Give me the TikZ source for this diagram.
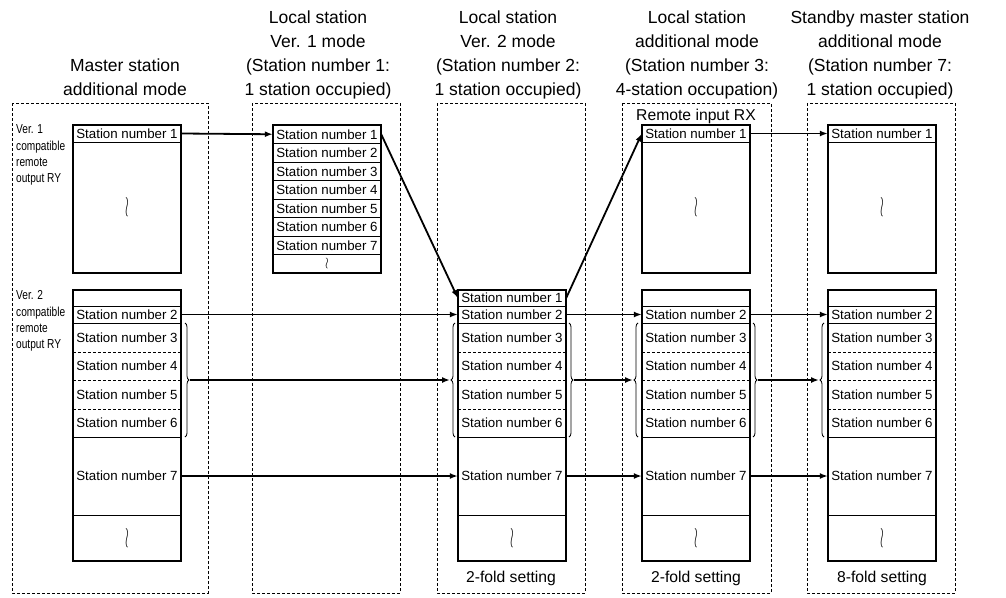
\documentclass[tikz,border=0pt]{standalone}
\usepackage{graphicx}
\usepackage{fontspec}
\setmainfont{Liberation Sans}
\newfontfamily\narrowfont[FakeStretch=0.78]{Liberation Sans}
\usetikzlibrary{arrows.meta,decorations.pathreplacing}

\tikzset{
  frame/.style={draw,dash pattern=on 3pt off 2pt,line width=0.6pt},
  cell/.style={minimum width=108pt,inner sep=0pt,font=\fontsize{13.3}{14}\selectfont},
  sep/.style={line width=0.8pt},
  dsep/.style={line width=0.8pt,dash pattern=on 3pt off 2pt},
  outline/.style={line width=1.5pt},
  link/.style={line width=1.8pt,-{Latex[length=8pt,width=6pt]}},
  brc/.style={line width=0.8pt,decorate,decoration={brace,amplitude=4pt}},
  head/.style={align=center,inner sep=0pt,anchor=north,font=\fontsize{17.5}{24}\selectfont},
  side/.style={align=left,inner sep=0pt,anchor=north west,font=\narrowfont\fontsize{13}{16.3}\selectfont},
  note/.style={inner sep=0pt,anchor=base,font=\fontsize{15.7}{18}\selectfont}
}
\newcommand{\squig}{\scalebox{0.9}[2]{$\wr$}}

\begin{document}
\begin{tikzpicture}[x=1pt,y=-1pt]
\useasboundingbox (0,0) rectangle (1006,597);

% column frames
\draw[frame] (12,103) rectangle (208,593);
\draw[frame] (252,103) rectangle (400,593);
\draw[frame] (437,103) rectangle (585,593);
\draw[frame] (622,103) rectangle (771,593);
\draw[frame] (807,103) rectangle (955,593);

% titles
\node[head] (h1) at (125,58.2) {Master station\\additional mode};
\node[head] (h2) at (318,10.2) {Local station\\Ver. 1 mode\\(Station number 1:\\1 station occupied)};
\node[head] (h3) at (508,10.2) {Local station\\Ver. 2 mode\\(Station number 2:\\1 station occupied)};
\node[head] (h4) at (697,10.2) {Local station\\additional mode\\(Station number 3:\\4-station occupation)};
\node[head] (h5) at (880,10.2) {Standby master station\\additional mode\\(Station number 7:\\1 station occupied)};

\node[side] (v1) at (16,124.7) {Ver. 1\\compatible\\remote\\output RY};
\node[side] (v2) at (16,290.7) {Ver. 2\\compatible\\remote\\output RY};
\node[note] (rx) at (696,120) {Remote input RX};

% upper areas
\foreach \x/\col in {73/a,642/d,828/e}{
  \node[cell,minimum height=17pt] (\col0) at (\x+54,133.5) {Station number 1};
  \node[cell,minimum height=131pt] (\col0b) at (\x+54,207.5) {\squig};
  \draw[sep] (\col0.south west) -- (\col0.south east);
  \draw[outline] (\col0.north west) rectangle (\col0b.south east);
}

% Ver. 1 mode area
\foreach \i in {1,...,7}{
  \node[cell,minimum height=18.5pt] (b\i) at (327,115.75+18.5*\i) {Station number \i};
  \draw[sep] (b\i.south west) -- (b\i.south east);
}
\node[cell,minimum height=18.5pt] (b8) at (327,263.75) {\scalebox{0.9}[1.1]{$\wr$}};
\draw[outline] (b1.north west) rectangle (b8.south east);

% lower areas
\foreach \x/\col/\lab in {73/a/{},458/c/{Station number 1},642/d/{},828/e/{}}{
  \node[cell,minimum height=16pt] (\col1) at (\x+54,298) {\lab};
  \node[cell,minimum height=17pt] (\col2) at (\x+54,314.5) {Station number 2};
  \node[cell,minimum height=29pt] (\col3) at (\x+54,337.5) {Station number 3};
  \node[cell,minimum height=28pt] (\col4) at (\x+54,366) {Station number 4};
  \node[cell,minimum height=29pt] (\col5) at (\x+54,394.5) {Station number 5};
  \node[cell,minimum height=28pt] (\col6) at (\x+54,423) {Station number 6};
  \node[cell,minimum height=78pt] (\col7) at (\x+54,476) {Station number 7};
  \node[cell,minimum height=46pt] (\col8) at (\x+54,538) {\squig};
  \draw[sep] (\col1.south west) -- (\col1.south east) (\col2.south west) -- (\col2.south east)
             (\col6.south west) -- (\col6.south east) (\col7.south west) -- (\col7.south east);
  \draw[dsep] (\col3.south west) -- (\col3.south east) (\col4.south west) -- (\col4.south east)
              (\col5.south west) -- (\col5.south east);
  \draw[outline] (\col1.north west) rectangle (\col8.south east);
}

% braces
\draw[brc] (185,323) -- (185,437);
\draw[brc] (455,437) -- (455,323);
\draw[brc] (569,323) -- (569,437);
\draw[brc] (638,437) -- (638,323);
\draw[brc] (753,323) -- (753,437);
\draw[brc] (824,437) -- (824,323);
\coordinate (aR) at (190,380);
\coordinate (cL) at (450,380);
\coordinate (cR) at (574,380);
\coordinate (dL) at (633,380);
\coordinate (dR) at (758,380);
\coordinate (eL) at (819,380);

% transfers
\draw[link] (a0.east) -- (b1.west);
\draw[link] (b1.east) -- (c1.west);
\draw[link] (c1.east) -- (d0.west);
\draw[link] (d0.east) -- (e0.west);
\draw[link] (a2.east) -- (c2.west);
\draw[link] (c2.east) -- (d2.west);
\draw[link] (d2.east) -- (e2.west);
\draw[link] (aR) -- (cL);
\draw[link] (cR) -- (dL);
\draw[link] (dR) -- (eL);
\draw[link] (a7.east) -- (c7.west);
\draw[link] (c7.east) -- (d7.west);
\draw[link] (d7.east) -- (e7.west);

\node[note] (s3) at (511,582) {2-fold setting};
\node[note] (s4) at (696,582) {2-fold setting};
\node[note] (s5) at (882,582) {8-fold setting};
\end{tikzpicture}
\end{document}
